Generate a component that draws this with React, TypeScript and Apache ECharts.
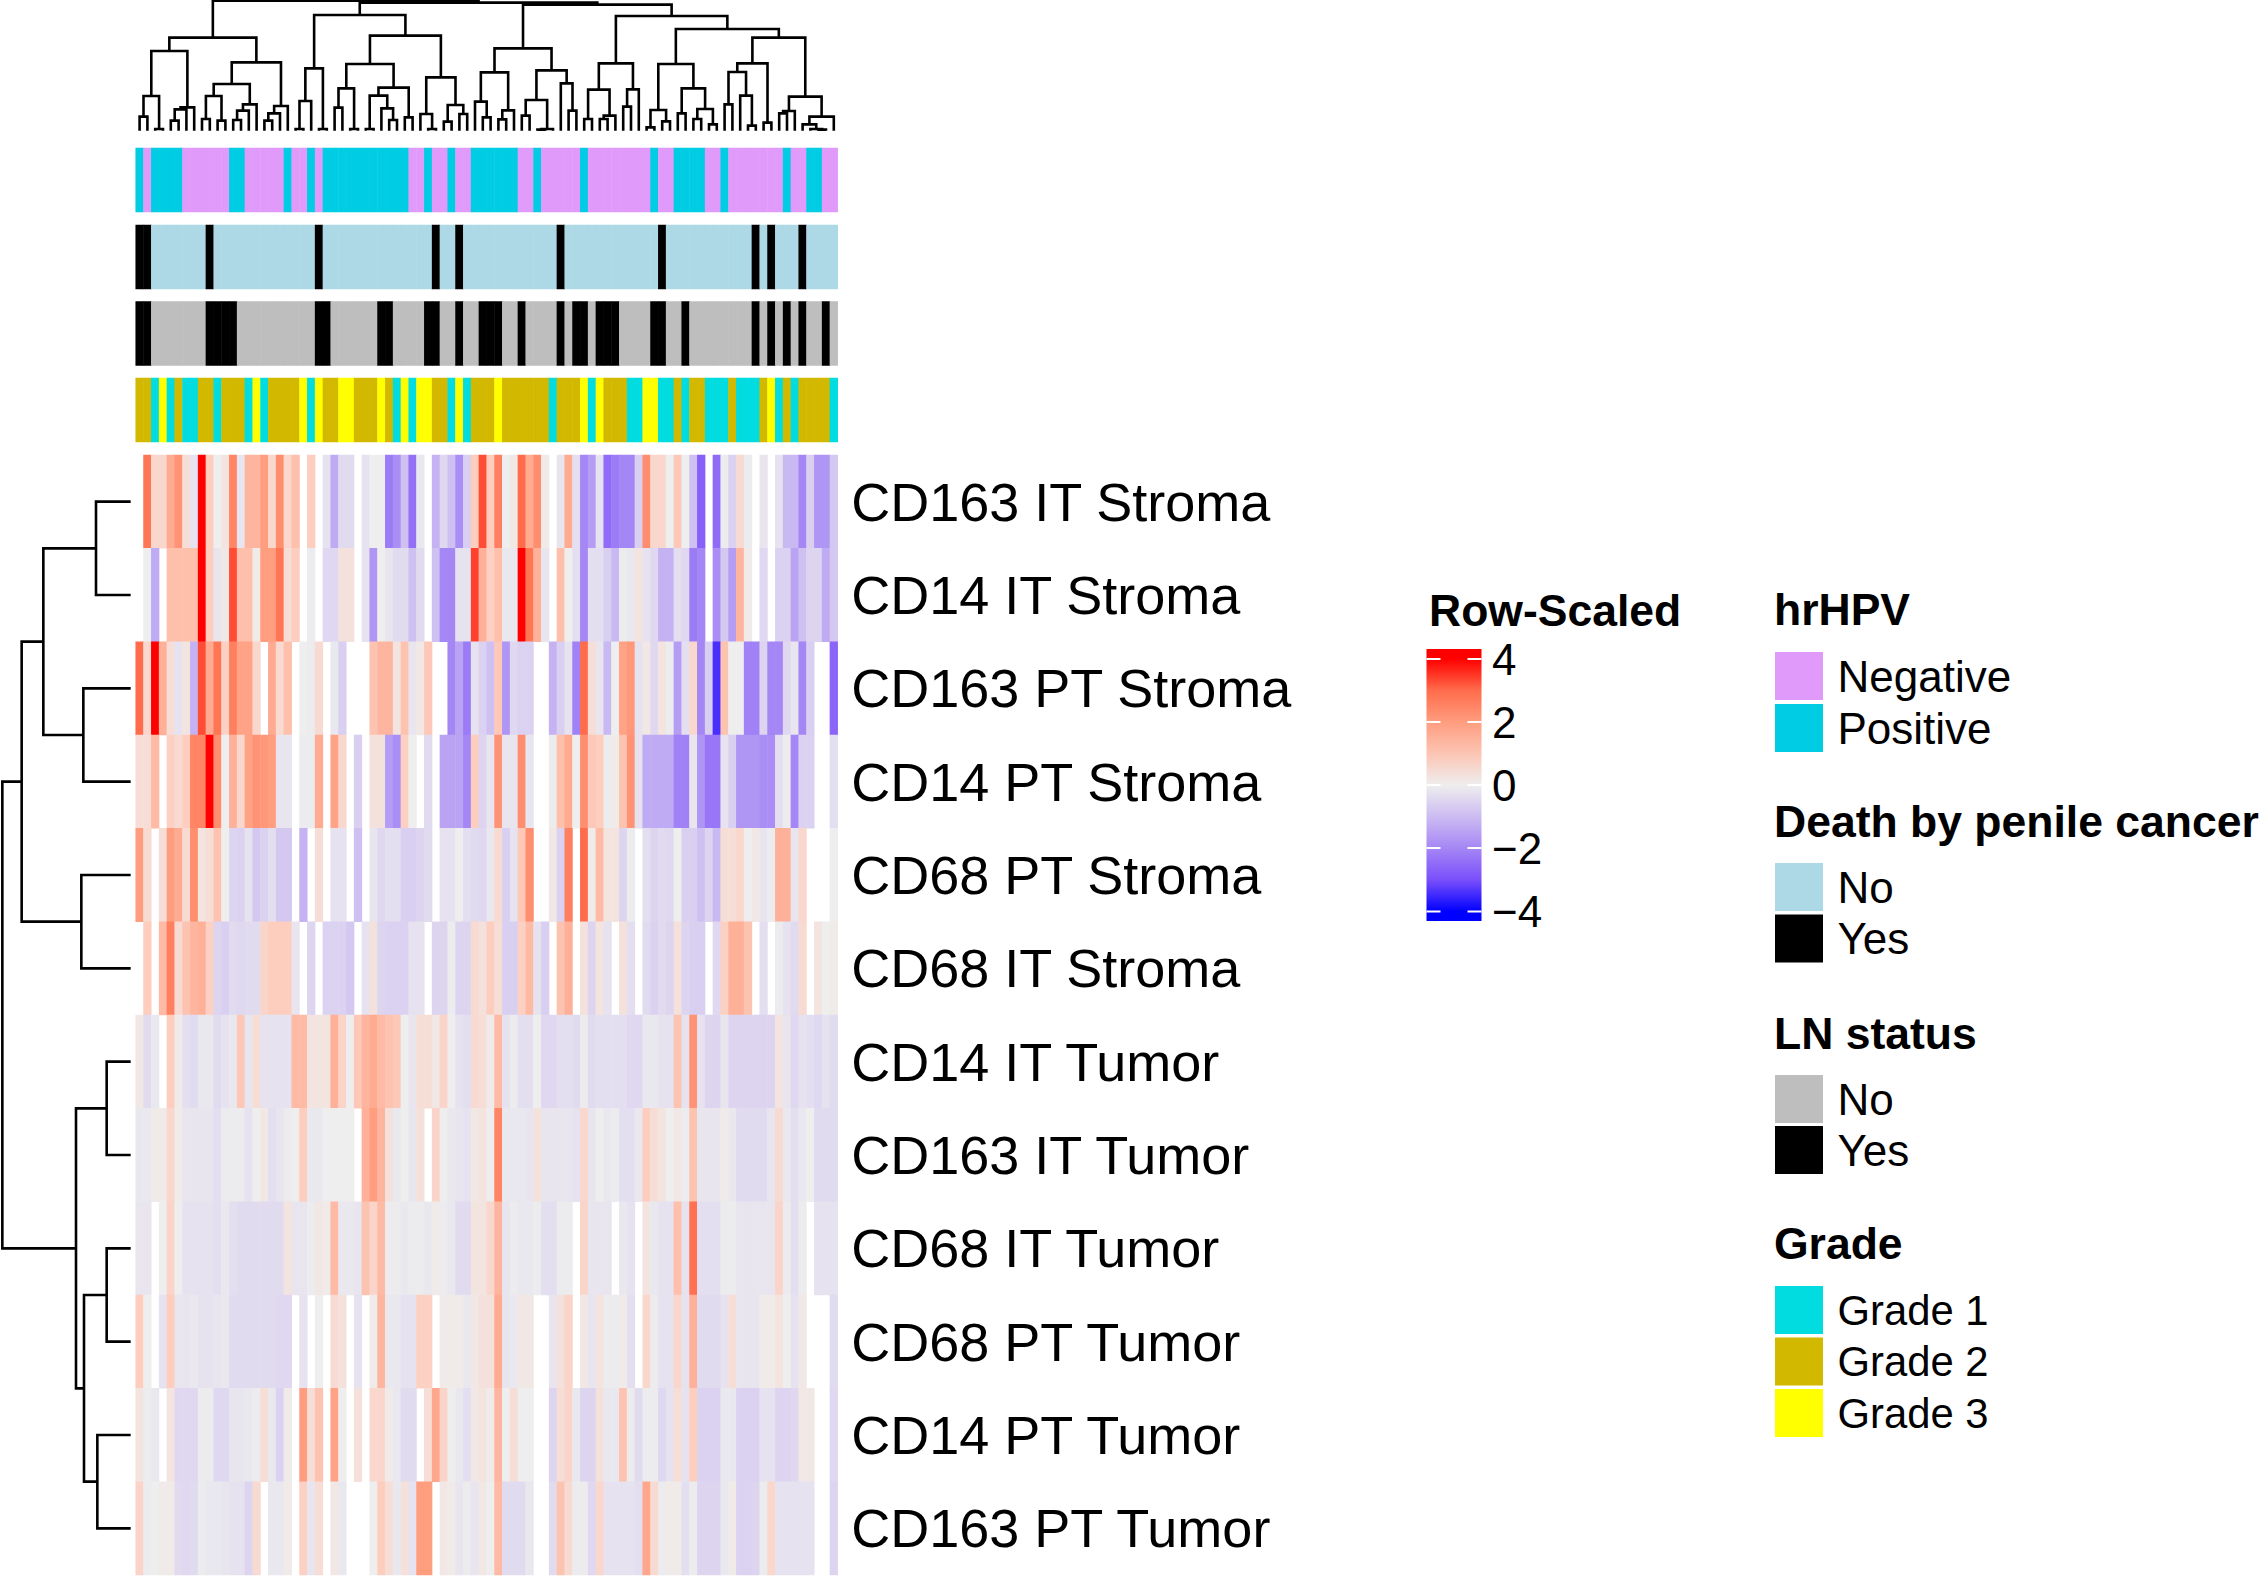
import React, { useEffect, useRef } from "react";
import * as echarts from "echarts";

const N = null;
const FONT = '"Liberation Sans", Arial, sans-serif';

const rowNames = ["CD163 IT Stroma", "CD14 IT Stroma", "CD163 PT Stroma", "CD14 PT Stroma", "CD68 PT Stroma", "CD68 IT Stroma", "CD14 IT Tumor", "CD163 IT Tumor", "CD68 IT Tumor", "CD68 PT Tumor", "CD14 PT Tumor", "CD163 PT Tumor"];

const cd163ItStroma = [N,2.8,.7,.7,1.7,2.2,.5,-.4,4,1,
0,.3,2.5,-.3,1.5,1.5,2,.7,2.3,.7,
1.3,N,1,N,-.4,-1.5,-.6,-.6,N,-.4,
0,0,-2.2,-1.9,-1.2,-2.4,-.2,N,-1.4,-.7,
-1.2,-1.9,-1,1,3.3,1,2.6,0,.2,3,
1.7,2.3,.1,N,-.3,1.7,-.5,-2,-1.7,-.4,
-2.5,-2.2,-2,-2,-1,2.3,.7,.7,0,1.1,
0,-1.2,-2.7,N,-2.5,-.1,-.9,.6,-.1,N,
-.3,N,-.4,-1.3,-1.3,-2,-1,-1.8,-1.8,-1.1];
const cd14ItStroma = [N,0,-1.5,N,1.3,1.3,1.3,1.3,4,1,
-.3,.2,3.3,1.3,1.3,.1,2,2,2.8,.5,
1,N,-.1,N,-.7,-.7,.4,.4,N,-.4,
-1.8,0,-.3,-.6,-.6,-1.2,-.6,N,-1.2,-2,
-2,-.4,-.4,3.4,1.6,.9,1.3,-.2,-.2,4,
2.8,1.6,-.3,N,1.3,0,-.5,-2,-.5,-.5,
-1,-1.3,-.1,-.2,.3,-.4,-.7,-1.4,-1.4,-.5,
-.7,-2.2,-2,N,-1.9,-1.1,-1.7,1.5,.1,N,
-.7,N,-.9,-.9,-1.6,-1.2,-.8,-.8,-1.5,-1.1];
const cd163PtStroma = [3,.7,4,1.6,.5,-.4,.3,-1.4,3.3,1.7,
2.8,.9,2.6,1.9,1.9,.7,N,1.7,.6,1.3,
N,0,-.1,.6,N,-.2,-1,N,N,N,
1.2,1.5,1.5,.3,1.2,-.3,.2,1.1,N,N,
-2,-1.6,-2.2,-.4,-.9,-1.2,1.1,-1.8,-.7,-.9,
-.9,N,N,-1.4,-1,-.4,-2.1,3,.5,-.3,
-1.3,0,1.9,2.1,-.4,.2,-.7,.3,-.1,-1.7,
-.5,.7,-2,-1,-3.4,1.2,0,0,-2.1,-2.1,
-.8,-2,-2,-.7,-.3,-2,-1,N,N,-2.6];
const cd14PtStroma = [.5,.5,1.4,N,.9,.6,1,2.5,2.5,4,
2.3,0,1.6,.7,1.9,2.2,2.1,2,-.3,-.3,
N,-.1,-.1,1.7,N,1.9,.7,N,-1,N,
.4,.4,-1.7,-1.9,.9,0,N,-.6,N,-1.6,
-1.6,-1.6,-2,1,-.8,-.3,2.2,-.3,-.3,2.3,
-.3,N,N,-.1,1.3,1.7,0,2.3,1.1,1,
-.1,.1,1.2,2.2,-.4,-1.5,-1.5,-1.5,-1.5,-2.1,
-2.1,-.3,-1.8,-2.3,-2.3,-.4,-1,-1.8,-1.8,-1.8,
-1.9,-1.9,-.5,-.1,-2,-.9,-.9,N,N,-.5];
const cd68PtStroma = [2,.6,N,.5,2,1.7,.6,2.3,.3,.5,
1.2,0,-.8,-.9,-.4,-1.1,-.9,-.5,-1.1,-1.1,
N,-1.4,N,.5,N,-.4,-.4,N,-1.2,N,
-.3,-.7,-.5,-.5,-1,-1,-.8,-.6,N,-.4,
-.4,0,-.5,-.6,-.7,-.2,.6,-1,-.4,1.1,
2.3,N,N,.2,-.9,2.6,N,3,.1,1.4,
.3,.3,-.8,-.1,N,-.5,-.8,-.6,-.7,0,
-1,-1,-1.2,-.8,-1.3,.5,.5,.7,0,.2,
-.3,-.1,1.6,1.6,-.3,.7,N,N,N,0];
const cd68ItStroma = [N,1,N,1.4,2.6,.6,1.2,1.5,1.6,.9,
-.8,-1,-.6,-.7,-.6,-.6,.8,1,1,1,
-.3,N,-.8,N,-.9,-.9,-.9,-1.1,N,-.4,
.4,-.8,-.9,-.9,-.9,-.4,-.4,N,-.8,-.8,
-.1,-.8,-.8,.6,.4,1,.5,-1,-1,.9,
1.4,-.4,-1,N,1.2,1.6,N,.4,-.8,.3,
-.4,N,.4,-.5,N,-.6,-.9,-.6,-.8,.4,
-.8,-1,-1,N,-.7,.9,1.6,1.6,1.2,N,
-.5,N,-.1,-.4,-.6,.6,N,.3,0,.1];
const cd14ItTumor = [.2,-.6,-.2,N,1,.1,-.5,-.6,-.2,-.2,
-.6,-.4,-.2,1.1,-.3,.5,-.4,-.4,-.4,-.4,
1.4,1.4,.3,.3,.3,1.6,.8,0,1.1,1.5,
1.7,1.4,1.2,1.1,0,-.3,.5,.5,.2,.8,
0,-.4,-.5,.6,.5,.1,1.4,-.4,-.1,-.5,
-.5,0,-.7,-.7,-.5,-.5,-.6,-.1,-.6,-.5,
-.5,-.5,-.5,-.7,-.7,-.2,-.2,-.4,-.4,1.2,
-.4,2.2,-.4,-.8,-.8,-.3,-.8,-.8,-.8,-.8,
-.8,-.8,.3,-.3,-.7,-.4,-.5,-.7,-.4,-.6];
const cd163ItTumor = [-.2,-.2,.1,.1,.7,.1,-.3,-.3,-.3,-.3,
-.5,-.1,-.1,-.1,-.4,0,.2,-.5,-.3,-.1,
0,1,-.2,-.2,0,0,0,0,N,1.6,
2,1.5,.4,-.2,0,-.3,.4,N,.8,0,
-.2,-.3,-.4,.2,.3,0,2.5,-.2,-.2,-.2,
-.3,.4,-.3,-.3,-.3,-.3,-.4,.7,-.3,0,
-.2,-.1,-.5,-.5,-.2,1,.5,.3,0,.2,
-.1,1.2,-.3,-.3,-.3,.1,-.2,-.6,-.6,-.6,
-.6,-.3,.6,-.2,-.5,-.2,0,-.6,-.6,-.6];
const cd68ItTumor = [-.3,-.3,N,0,.8,0,-.4,-.4,-.4,-.4,
-.5,-.2,-.5,-.6,-.6,-.6,-.6,-.6,-.6,.3,
-.3,-.3,-.1,.2,.1,1.4,-.2,-.2,-.3,1.2,
.8,1.4,-.1,-.1,-.2,-.1,-.1,-.2,.1,-.1,
-.2,-.6,-.6,.3,.3,.7,1.5,-.3,-.1,-.2,
-.2,-.1,-.5,-.5,-.1,-.1,N,.8,-.3,-.3,
-.3,N,-.2,-.4,N,.3,-.2,-.4,-.4,1.3,
-.4,2.9,-.5,-.5,-.5,-.1,-.1,-.3,-.3,-.3,
-.3,-.3,.8,-.1,-.5,-.1,N,-.4,-.4,-.4];
const cd68PtTumor = [1,0,N,-.4,1,-.3,-.3,-.2,-.4,-.4,
-.3,-.2,-.6,-.6,-.6,-.6,-.6,-.6,-.7,-.7,
N,-.4,N,0,N,.6,.4,N,-.4,N,
.1,1.5,-.2,-.2,-.4,-.4,.9,.9,N,.1,
.1,.1,-.2,.2,.4,.4,1.7,-.3,-.2,.2,
.2,N,N,-.3,.4,.8,N,.2,-.3,.3,
-.1,-.1,.1,-.5,N,.7,-.1,-.4,-.4,.7,
-.4,1.6,-.6,-.6,-.6,-.4,.5,-.3,-.3,-.3,
.1,.1,.3,0,-.4,.2,N,N,N,-.6];
const cd14PtTumor = [.3,-.1,-.2,N,.3,-.7,-.7,-.7,-.1,-.1,
-.7,-.7,-.3,-.3,-.2,-.1,.5,-.2,-.9,.1,
N,2,.5,1.2,N,1.9,0,N,.4,N,
.7,.7,.1,-.2,-.6,-.6,N,.5,1.8,.8,
0,-.2,-.5,.2,.3,.1,1.5,0,.5,0,
0,N,N,-.8,.5,.8,-.2,-.8,-.8,.4,
-.2,-.2,1.2,-.1,-.6,-.1,-.1,-.7,-.4,.5,
-.4,1,-.9,-.9,-.9,-.2,-.2,-.9,-.9,-.9,
-.4,-.4,-.8,-.8,-.7,.2,.2,N,N,-.7];
const cd163PtTumor = [.8,-.1,0,.1,.1,-.6,-.7,-.6,-.1,-.2,
-.2,-.3,-.4,-.4,-.8,.6,N,-.2,-.2,.1,
N,.9,-.3,.5,N,.2,-.2,N,N,N,
0,1,.5,-.2,.4,-.4,2,2,N,.2,
.1,-.3,-.1,-.3,.2,0,1.4,-.6,-.6,-.6,
-.2,N,N,-.6,1.2,.6,-.1,-.1,-.7,.7,
-.4,-.4,-.4,-.4,-.5,1.8,.6,-.1,.1,.1,
-.5,-.1,-.8,-.8,-.8,-.2,.1,-.9,-.9,-.8,
-.1,.7,-.4,-.4,-.4,-.4,-.4,N,N,-.8];
const matrix = [cd163ItStroma, cd14ItStroma, cd163PtStroma, cd14PtStroma, cd68PtStroma, cd68ItStroma, cd14ItTumor, cd163ItTumor, cd68ItTumor, cd68PtTumor, cd14PtTumor, cd163PtTumor];

const COLS = 90;
const hpvPositiveCols = [0,2,3,4,5,12,13,19,22,24,25,26,27,28,29,30,31,32,33,34,37,40,43,44,45,46,47,48,51,57,66,69,70,71,72,75,83,86,87];
const deathYesCols = [0,1,9,23,38,41,54,67,79,81,85];
const lnYesCols = [0,1,9,10,11,12,23,24,31,32,37,38,41,44,45,46,49,54,56,57,59,60,61,66,67,70,79,81,83,85,88];
const grade1Cols = [2,4,6,7,10,14,16,22,33,35,40,42,53,58,63,64,67,68,70,73,74,75,77,78,79,82,84,89];
const grade3Cols = [3,15,21,23,26,27,31,34,36,37,41,46,57,59,65,66,81];

// dendrogram nodes: [merge height, left child, right child]; a leaf is its column or row index
const colTreeA = [279,
  [239, [104, [42,0,1], [5,2,3]], [70, [64, [30,4,5], 6], 7]],
  [205, [140, [104, [35,8,9], [30,10,11]], [79, [60, [32,12,13], 14], 15]], [74, [52, [30,16,17], 18], 19]]];
const colTreeB = [347,
  [187, [89, [5,20,21], 22], [5,23,24]],
  [285,
    [200, [127, [69,25,26], [5,27,28]], [129, [105, [5,29,30], [67,31,[32,32,33]]], [40,34,35]]],
    [160, [50,36,[5,37,38]], [77, [27,39,40], [50,41,42]]]]];
const colTreeD = [247,
  [175, [87,43,[40,44,45]], [61,[34,46,47],48]],
  [181, [92,[45,49,50],[5,[3,51,52],53]], [142,54,[60,55,56]]]];
const colTreeE = [344,
  [202, [123,[35,57,58],[45,[35,59,60],61]], [124,[72,62,63],64]],
  [305,
    [200, [62,[10,65,66],[28,67,68]], [127,[52,69,70],[65,[35,71,72],[19,73,74]]]],
    [279,
      [202, [176,[79,75,76],[105,77,[15,78,79]]], [24,80,81]],
      [102, [59,[52,82,83],84], [42,[19,85,[5,86,[3,87,88]]],89]]]]];
const colTree = [390, colTreeA, [384, colTreeB, [378, colTreeD, colTreeE]]];
const rowTree = [385,
  [327, [262, [104,0,1], [142,2,3]], [148,4,5]],
  [164, [72,6,7], [140, [72,8,9], [100,10,11]]]];

const legendGroups = [
  { title: "hrHPV", titleY: 609, size: 44, items: [["Negative", "#E09BFA", 652], ["Positive", "#00CDE3", 704]] },
  { title: "Death by penile cancer", titleY: 821, size: 44, items: [["No", "#ADD8E6", 863], ["Yes", "#000000", 914.5]] },
  { title: "LN status", titleY: 1033, size: 44, items: [["No", "#BEBEBE", 1075], ["Yes", "#000000", 1126]] },
  { title: "Grade", titleY: 1243, size: 41.8, items: [["Grade 1", "#00DCE0", 1286], ["Grade 2", "#D2B900", 1337.5], ["Grade 3", "#FFFF00", 1389]] },
];
const scaleTicks = [["4", 659], ["2", 722], ["0", 785], ["\u22122", 848], ["\u22124", 911.5]];
const rampColors = ["#0000FF", "#7A4FFB", "#A586F5", "#D9CFF1", "#EEEEEE", "#FDCDBE", "#FF9D7F", "#FF6C4B", "#FF0000"];
const legendRamp = ["#0000FF", "#7A4FFB", "#A586F5", "#CCBBF2", "#EEEEEE", "#FCC5B4", "#FF9D7F", "#FF6C4B", "#FF0000"];

type Tree = number | any[];
function segments(tree: Tree) {
  const out: number[][] = [];
  const walk = (n: Tree): [number, number] => {
    if (typeof n === "number") return [n + 0.5, 0];
    const [h, l, r] = n as any[];
    const a = walk(l);
    const b = walk(r);
    out.push([a[0], a[1], b[0], b[1], h]);
    return [(a[0] + b[0]) / 2, h];
  };
  walk(tree);
  return out;
}

const hiddenValue = (extra: any) => ({ type: "value", show: false, ...extra });
const hiddenCat = (extra: any) => ({ type: "category", show: false, ...extra });
const colNames = Array.from({ length: COLS }, (_, i) => String(i));
const DENDRO_WIDTH = 2.6;

export default function App() {
  const ref = useRef<HTMLDivElement>(null);
  useEffect(() => {
    const chart = echarts.init(ref.current!, null, { renderer: "svg" });
    const L = 135.7, W = 702;
    const tracks = [
      { top: 148, colors: ["#E09BFA", "#00CDE3"], val: (c: number) => (hpvPositiveCols.includes(c) ? 1 : 0) },
      { top: 225, colors: ["#ADD8E6", "#000000"], val: (c: number) => (deathYesCols.includes(c) ? 1 : 0) },
      { top: 301.5, colors: ["#BEBEBE", "#000000"], val: (c: number) => (lnYesCols.includes(c) ? 1 : 0) },
      { top: 378, colors: ["#D2B900", "#00DCE0", "#FFFF00"], val: (c: number) => (grade1Cols.includes(c) ? 1 : grade3Cols.includes(c) ? 2 : 0) },
    ];
    const grids: any[] = [{ left: L, top: 455, width: W, height: 1120 }];
    const xAxes: any[] = [hiddenCat({ data: colNames, gridIndex: 0 })];
    const yAxes: any[] = [{
      type: "category", data: rowNames, inverse: true, position: "right", gridIndex: 0,
      axisLine: { show: false }, axisTick: { show: false },
      axisLabel: { fontSize: 54, color: "#000", margin: 13.5, fontFamily: FONT, padding: [3, 0, 0, 0] },
    }];
    const heatData: any[] = [];
    matrix.forEach((row, y) => row.forEach((v, x) => { if (v !== null) heatData.push([x, y, v]); }));
    const series: any[] = [{ type: "heatmap", xAxisIndex: 0, yAxisIndex: 0, data: heatData, progressive: 0 }];
    const visualMaps: any[] = [{ type: "continuous", show: false, min: -4, max: 4, dimension: 2, seriesIndex: 0, inRange: { color: rampColors } }];
    tracks.forEach((t, i) => {
      grids.push({ left: L, top: t.top, width: W, height: 64 });
      xAxes.push(hiddenCat({ data: colNames, gridIndex: i + 1 }));
      yAxes.push(hiddenCat({ data: ["a"], gridIndex: i + 1 }));
      series.push({ type: "heatmap", xAxisIndex: i + 1, yAxisIndex: i + 1, progressive: 0, data: colNames.map((_, c) => [c, 0, t.val(c)]) });
      visualMaps.push({ type: "piecewise", show: false, dimension: 2, seriesIndex: i + 1, pieces: t.colors.map((color, value) => ({ value, color })) });
    });
    // top dendrogram
    grids.push({ left: L, top: 0, width: W, height: 130.67 });
    xAxes.push(hiddenValue({ min: 0, max: COLS, gridIndex: 5 }));
    yAxes.push(hiddenValue({ min: 0, max: 392, gridIndex: 5 }));
    series.push({
      type: "custom", xAxisIndex: 5, yAxisIndex: 5, clip: false, data: segments(colTree),
      renderItem: (_: any, api: any) => {
        const [x1, y1, x2, y2, h] = [0, 1, 2, 3, 4].map((d) => api.value(d));
        const pts = [[x1, y1], [x1, h], [x2, h], [x2, y2]].map((p) => api.coord(p));
        return { type: "polyline", shape: { points: pts }, style: { stroke: "#000", lineWidth: DENDRO_WIDTH, fill: null } };
      },
    });
    // left dendrogram
    grids.push({ left: 0, top: 455, width: 130.67, height: 1120 });
    xAxes.push(hiddenValue({ min: 0, max: 392, inverse: true, gridIndex: 6 }));
    yAxes.push(hiddenValue({ min: 0, max: 12, inverse: true, gridIndex: 6 }));
    series.push({
      type: "custom", xAxisIndex: 6, yAxisIndex: 6, clip: false, data: segments(rowTree),
      renderItem: (_: any, api: any) => {
        const [y1, x1, y2, x2, h] = [0, 1, 2, 3, 4].map((d) => api.value(d));
        const pts = [[x1, y1], [h, y1], [h, y2], [x2, y2]].map((p) => api.coord(p));
        return { type: "polyline", shape: { points: pts }, style: { stroke: "#000", lineWidth: DENDRO_WIDTH, fill: null } };
      },
    });

    const txt = (text: string, x: number, y: number, bold: boolean, size = 44) => ({
      type: "text", x, y,
      style: { text, fill: "#000", fontFamily: FONT, fontSize: bold ? 44.5 : size, fontWeight: bold ? "bold" : "normal", verticalAlign: "middle", align: "left" },
    });
    const graphics: any[] = [txt("Row-Scaled", 1429, 610, true)];
    const y0 = 649, y1 = 921, span = y1 - y0;
    const stops = legendRamp.map((c, i) => {
      const yv = 911.5 - (i / 8) * (911.5 - 659);
      return { offset: (yv - y0) / span, color: c };
    }).reverse();
    graphics.push({
      type: "rect", shape: { x: 1426.5, y: y0, width: 55, height: span },
      style: { fill: new echarts.graphic.LinearGradient(0, 0, 0, 1, [{ offset: 0, color: "#FF0000" }, ...stops, { offset: 1, color: "#0000FF" }]) },
    });
    scaleTicks.forEach(([label, y]) => {
      const yy = y as number;
      graphics.push({ type: "line", shape: { x1: 1426.5, y1: yy, x2: 1440.5, y2: yy }, style: { stroke: "#fff", lineWidth: 2 } });
      graphics.push({ type: "line", shape: { x1: 1467.5, y1: yy, x2: 1481.5, y2: yy }, style: { stroke: "#fff", lineWidth: 2 } });
      graphics.push(txt(label as string, 1492, yy, false));
    });
    legendGroups.forEach((g) => {
      graphics.push(txt(g.title, 1774, g.titleY, true));
      g.items.forEach(([label, color, y]) => {
        graphics.push({ type: "rect", shape: { x: 1775, y: y as number, width: 48, height: 48 }, style: { fill: color as string } });
        graphics.push(txt(label as string, 1837.5, (y as number) + 24, false, g.size));
      });
    });

    chart.setOption({
      animation: false,
      backgroundColor: "#fff",
      textStyle: { fontFamily: FONT },
      grid: grids,
      xAxis: xAxes,
      yAxis: yAxes,
      visualMap: visualMaps,
      series,
      graphic: { elements: graphics },
    });
    return () => chart.dispose();
  }, []);
  return <div ref={ref} style={{ position: "absolute", left: 0, top: 0, width: 2264, height: 1576 }} />;
}
